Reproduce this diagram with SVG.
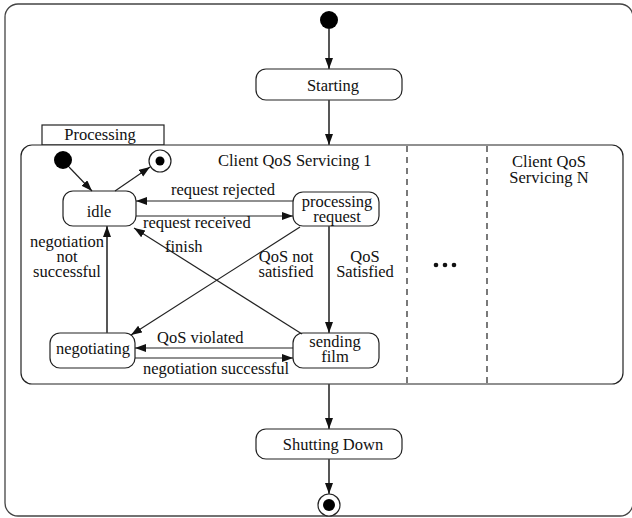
<svg xmlns="http://www.w3.org/2000/svg" width="632" height="518" viewBox="0 0 632 518">
<style>
.box{fill:#fff;stroke:#222;stroke-width:1.2}
.frame{fill:none;stroke:#444;stroke-width:1.3}
text{font-family:'Liberation Serif','DejaVu Serif',serif;font-size:16.5px;fill:#111}
.m{text-anchor:middle}
.e{fill:none;stroke:#222;stroke-width:1.2}
.v{fill:none;stroke:#444;stroke-width:1.8}
.dash{stroke:#333;stroke-width:1.3;stroke-dasharray:6,5}
</style>
<defs>
<marker id="ah" markerUnits="userSpaceOnUse" markerWidth="12" markerHeight="10" refX="11" refY="4" orient="auto">
<path d="M0,0 L11,4 L0,8 Z" fill="#111"/>
</marker>
</defs>
<rect x="5" y="4" width="628" height="512" rx="13" class="frame"/>
<g id="region">
<rect x="42" y="125" width="122" height="20" class="box"/>
<text x="100" y="140" class="m">Processing</text>
<rect x="21" y="145" width="602" height="239" rx="11" class="box"/>
<line x1="407" y1="146" x2="407" y2="383" class="dash"/>
<line x1="487" y1="146" x2="487" y2="383" class="dash"/>
<text x="218" y="166">Client QoS Servicing 1</text>
<text class="m"><tspan x="549" y="167">Client QoS</tspan><tspan x="549" y="183">Servicing N</tspan></text>
<circle cx="436" cy="265" r="2.3" fill="#111"/>
<circle cx="445" cy="265" r="2.3" fill="#111"/>
<circle cx="454" cy="265" r="2.3" fill="#111"/>
</g>
<g id="top-initial"><circle cx="329" cy="20" r="9" fill="#000"/></g>
<g id="starting">
<rect x="256" y="69" width="146" height="31" rx="10" class="box"/>
<text x="333" y="91" class="m">Starting</text>
</g>
<g id="inner-initial"><circle cx="63" cy="160" r="9" fill="#000"/></g>
<g id="inner-final">
<circle cx="160" cy="161" r="11" fill="#fff" stroke="#222" stroke-width="1.2"/>
<circle cx="160" cy="161" r="4.5" fill="#000"/>
</g>
<g id="idle">
<rect x="63" y="191" width="73" height="35" rx="10" class="box"/>
<text x="99" y="217" class="m">idle</text>
</g>
<g id="processing-request">
<rect x="293" y="192" width="86" height="34" rx="10" class="box"/>
<text class="m"><tspan x="337" y="207">processing</tspan><tspan x="337" y="222">request</tspan></text>
</g>
<g id="negotiating">
<rect x="50" y="333" width="85" height="35" rx="10" class="box"/>
<text x="93" y="354" class="m">negotiating</text>
</g>
<g id="sending-film">
<rect x="293" y="333" width="86" height="35" rx="10" class="box"/>
<text class="m"><tspan x="335" y="347">sending</tspan><tspan x="335" y="362">film</tspan></text>
</g>
<g id="shutting-down">
<rect x="256" y="429" width="146" height="30" rx="10" class="box"/>
<text x="333" y="450" class="m">Shutting Down</text>
</g>
<g id="final">
<circle cx="329" cy="505" r="11" fill="#fff" stroke="#222" stroke-width="1.2"/>
<circle cx="329" cy="505" r="6" fill="#000"/>
</g>
<g id="connectors">
<line x1="329" y1="29" x2="329" y2="69" class="v" marker-end="url(#ah)"/>
<line x1="329" y1="100" x2="329" y2="145" class="v" marker-end="url(#ah)"/>
<line x1="329" y1="384" x2="329" y2="429" class="v" marker-end="url(#ah)"/>
<line x1="329" y1="459" x2="329" y2="494" class="v" marker-end="url(#ah)"/>
<line x1="69" y1="167" x2="92" y2="191" class="e" marker-end="url(#ah)"/>
<line x1="115" y1="191" x2="150" y2="167" class="e" marker-end="url(#ah)"/>
<line x1="293" y1="201" x2="136" y2="201" class="e" marker-end="url(#ah)"/>
<text x="171" y="195">request rejected</text>
<line x1="136" y1="216" x2="293" y2="216" class="e" marker-end="url(#ah)"/>
<text x="143" y="228">request received</text>
<line x1="302" y1="334" x2="134" y2="228" class="e" marker-end="url(#ah)"/>
<text x="165" y="252">finish</text>
<line x1="300" y1="227" x2="131" y2="335" class="e" marker-end="url(#ah)"/>
<text class="m"><tspan x="286" y="262">QoS not</tspan><tspan x="286" y="277">satisfied</tspan></text>
<line x1="329" y1="226" x2="329" y2="333" class="v" marker-end="url(#ah)"/>
<text class="m"><tspan x="365" y="262">QoS</tspan><tspan x="365" y="277">Satisfied</tspan></text>
<line x1="107" y1="333" x2="107" y2="226" class="v" marker-end="url(#ah)"/>
<text class="m"><tspan x="67" y="247">negotiation</tspan><tspan x="67" y="262">not</tspan><tspan x="67" y="277">successful</tspan></text>
<line x1="293" y1="348" x2="135" y2="348" class="e" marker-end="url(#ah)"/>
<text x="157" y="343">QoS violated</text>
<line x1="135" y1="358" x2="293" y2="358" class="e" marker-end="url(#ah)"/>
<text x="143" y="374">negotiation successful</text>
</g>
</svg>
